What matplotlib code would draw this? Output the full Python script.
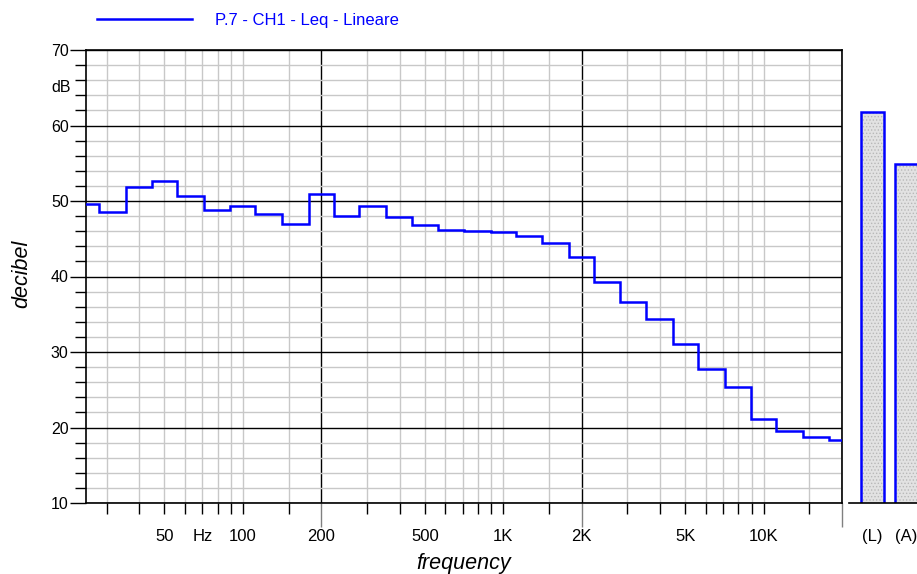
import matplotlib.pyplot as plt
from matplotlib.ticker import FixedLocator, NullFormatter

plt.rcParams['font.family'] = ['Liberation Sans', 'DejaVu Sans']
plt.rcParams['hatch.linewidth'] = 0.6

# third-octave band centres (Hz) and levels (dB)
bands = [25, 31.5, 40, 50, 63, 80, 100, 125, 160, 200,
         250, 315, 400, 500, 630, 800, 1000, 1250, 1600, 2000,
         2500, 3150, 4000, 5000, 6300, 8000, 10000, 12500, 16000, 20000]
leq = [49.6, 48.6, 51.9, 52.6, 50.7, 48.8, 49.3, 48.3, 47.0, 50.9,
       48.0, 49.3, 47.9, 46.8, 46.1, 46.0, 45.9, 45.3, 44.5, 42.6,
       39.3, 36.6, 34.4, 31.0, 27.8, 25.4, 21.1, 19.6, 18.7, 18.4]
series_name = 'P.7 - CH1 - Leq - Lineare'

totals = [61.8, 54.9]
total_labels = ['(L)', '(A)']

xtick_pos = [50, 70, 100, 200, 500, 1000, 2000, 5000, 10000]
xtick_labels = ['50', 'Hz', '100', '200', '500', '1K', '2K', '5K', '10K']

BLUE = '#0000ff'
W, H = 917, 574

# band edges from the centres
edges = [bands[0] / 2 ** (1 / 6)]
for a, b in zip(bands[:-1], bands[1:]):
    edges.append((a * b) ** 0.5)
edges.append(bands[-1] * 2 ** (1 / 6))

# gray vertical grid lines: 1, 1.5, 2..9 per decade
minor = []
for dec in [10, 100, 1000, 10000]:
    for m in [1, 1.5, 2, 3, 4, 5, 6, 7, 8, 9]:
        f = dec * m
        if 25 < f < 20000 and f not in (200, 2000):
            minor.append(f)

fig = plt.figure(figsize=(W / 100, H / 100), dpi=100)
ax = fig.add_axes([86 / W, 71 / H, 756 / W, 453 / H])

ax.stairs(leq, edges, baseline=None, color=BLUE, lw=1.8, label=series_name, zorder=3)

ax.set_xscale('log')
ax.set_xlim(25, 20000)
ax.set_ylim(10, 70)

ax.xaxis.set_major_locator(FixedLocator([200, 2000, 20000]))
ax.xaxis.set_minor_locator(FixedLocator(minor))
ax.xaxis.set_major_formatter(NullFormatter())
ax.xaxis.set_minor_formatter(NullFormatter())
ax.yaxis.set_major_locator(FixedLocator(range(10, 71, 10)))
ax.yaxis.set_minor_locator(FixedLocator(range(12, 70, 2)))

ax.grid(which='minor', color='#c8c8c8', lw=1.0)
ax.grid(which='major', color='black', lw=1.0)
ax.set_axisbelow(True)

ax.tick_params(axis='x', which='major', length=17, width=1, color='#808080')
ax.tick_params(axis='x', which='minor', length=8, width=1, color='black')
ax.tick_params(axis='y', which='major', length=11.5, width=1, labelsize=11.5, pad=1)
ax.tick_params(axis='y', which='minor', length=8, width=1)
for s in ax.spines.values():
    s.set_linewidth(1.2)

ax.text(-0.02, 65, 'dB', transform=ax.get_yaxis_transform(), ha='right', va='center', fontsize=11.5)
for f, lab in zip(xtick_pos, xtick_labels):
    ax.text(f, -0.075, lab, transform=ax.get_xaxis_transform(), ha='center', va='center', fontsize=12)

leg = ax.legend(loc='center left', bbox_to_anchor=(97 / W, 1 - 20 / H), bbox_transform=fig.transFigure,
                frameon=False, handlelength=5.7, handletextpad=1.4, borderpad=0, borderaxespad=0,
                fontsize=12, labelcolor=BLUE)

fig.text(464 / W, 1 - 564 / H, 'frequency', ha='center', va='center', fontsize=15.5, style='italic')
fig.text(22 / W, 1 - 274 / H, 'decibel', ha='center', va='center', fontsize=15.5, style='italic', rotation=90)

# overall level bars
bx = fig.add_axes([849 / W, 71 / H, 68 / W, 453 / H])
x = range(len(totals))
bx.bar(x, totals, width=0.667, color='#e2e2e2', edgecolor='#b8b8b8', hatch='.....', lw=0)
bx.bar(x, totals, width=0.667, fill=False, edgecolor=BLUE, lw=1.8)
bx.set_xlim(-0.667, 1.304)
bx.set_ylim(10, 70)
bx.set_xticks([])
bx.set_yticks([])
for side in ['left', 'right', 'top']:
    bx.spines[side].set_visible(False)
bx.spines['bottom'].set_linewidth(1.2)
for i, lab in enumerate(total_labels):
    bx.text(i, -0.075, lab, transform=bx.get_xaxis_transform(), ha='center', va='center', fontsize=12)

fig.savefig('out.png', dpi=100)
